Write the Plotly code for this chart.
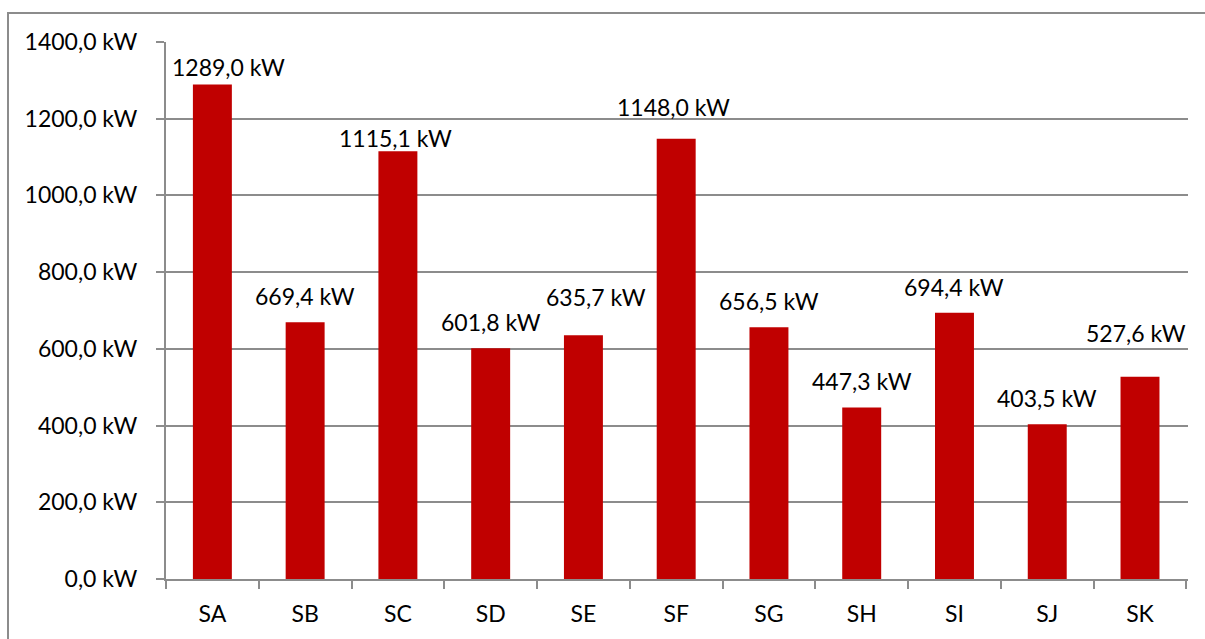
import plotly.graph_objects as go

# Station names and their power values (kW)
stations = ["SA", "SB", "SC", "SD", "SE", "SF", "SG", "SH", "SI", "SJ", "SK"]
power_kw = [1289.0, 669.4, 1115.1, 601.8, 635.7, 1148.0, 656.5, 447.3, 694.4, 403.5, 527.6]

# Y axis ticks
y_ticks = [0, 200, 400, 600, 800, 1000, 1200, 1400]


def fmt_kw(v):
    return f"{v:.1f}".replace(".", ",") + " kW"


FONT = "Lato"
FSIZE = 23
GRID = "#8C8C8C"
BAR = "#C00000"

fig = go.Figure(
    go.Bar(
        x=stations,
        y=power_kw,
        marker=dict(color=BAR, line=dict(width=0)),
        hoverinfo="skip",
    )
)

# value labels above each bar; some were dragged by hand, so they carry
# their own pixel offsets
label_dx = {"SA": 16, "SC": -2, "SE": 13, "SF": -3, "SK": -4}
label_dy = {"SA": -8, "SC": -13, "SE": 12, "SF": 6, "SK": 18}
BASE_DY = 10
annotations = []
for name, val in zip(stations, power_kw):
    annotations.append(
        dict(
            x=name,
            y=val,
            xref="x",
            yref="y",
            text=fmt_kw(val),
            showarrow=False,
            xanchor="center",
            yanchor="bottom",
            yshift=BASE_DY + label_dy.get(name, 0),
            xshift=label_dx.get(name, 0),
            font=dict(family=FONT, size=FSIZE, color="#000000"),
        )
    )

fig.update_layout(
    width=1205,
    height=639,
    margin=dict(l=166, r=17, t=42, b=60),
    paper_bgcolor="white",
    plot_bgcolor="white",
    bargap=0.58,
    showlegend=False,
    annotations=annotations,
    font=dict(family=FONT, size=FSIZE, color="#000000"),
    xaxis=dict(
        type="category",
        showgrid=False,
        showline=True,
        linecolor=GRID,
        linewidth=2,
        ticks="outside",
        tickson="boundaries",
        ticklen=8,
        tickwidth=2,
        tickcolor=GRID,
        ticklabelstandoff=13,
        tickfont=dict(family=FONT, size=FSIZE, color="#000000"),
        fixedrange=True,
    ),
    yaxis=dict(
        range=[0, 1400],
        tickvals=y_ticks,
        ticktext=[fmt_kw(v) for v in y_ticks],
        showgrid=True,
        gridcolor=GRID,
        gridwidth=2,
        zeroline=False,
        showline=True,
        linecolor=GRID,
        linewidth=2,
        ticks="outside",
        ticklen=8,
        tickwidth=2,
        tickcolor=GRID,
        ticklabelstandoff=14,
        tickfont=dict(family=FONT, size=FSIZE, color="#000000"),
        fixedrange=True,
    ),
    # outer chart frame
    shapes=[
        dict(
            type="rect",
            xref="paper",
            yref="paper",
            x0=-158 / 1022,
            x1=1.5,
            y0=-0.5,
            y1=1 + 29 / 537,
            line=dict(color=GRID, width=2),
            fillcolor="rgba(0,0,0,0)",
            layer="below",
        )
    ],
)

fig.write_html("out.html", config={"displayModeBar": False})
